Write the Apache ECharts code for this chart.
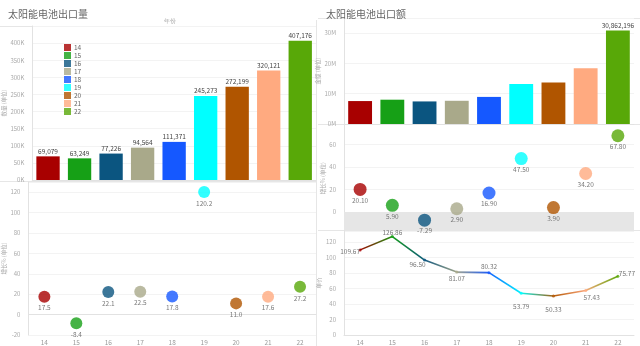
<!DOCTYPE html>
<html><head><meta charset="utf-8">
<script src="https://cdn.jsdelivr.net/npm/echarts@6/dist/echarts.min.js"></script>
<style>html,body{margin:0;padding:0;background:#fff}#c{width:640px;height:346px}</style>
</head><body><div id="c"></div>
<script>
const categories = ['14','15','16','17','18','19','20','21','22'];
const volume = [69079, 63249, 77226, 94564, 111371, 245273, 272199, 320121, 407176];
const volumeGrowth = [17.5, -8.4, 22.1, 22.5, 17.8, 120.2, 11.0, 17.6, 27.2];
const amount = [7575894, 8023768, 7452309, 7666303, 8945319, 13193235, 13699776, 18384549, 30862196];
const amountGrowth = [20.10, 5.90, -7.29, 2.90, 16.90, 47.50, 3.90, 34.20, 67.80];
const unitPrice = [109.67, 126.86, 96.50, 81.07, 80.32, 53.79, 50.33, 57.43, 75.77];
const volumeTicks = {min: 0, max: 450000, interval: 50000};
const amountTicks = {min: 0, max: 35000000, interval: 10000000};

const palette = ['#a80000','#16a016','#0b5580','#a9a98a','#1558ff','#00ffff','#b05500','#ffaa80','#58a808'];
const FONT = '"Noto Sans CJK SC","Noto Sans",sans-serif';
const gray = '#9a9a9a';
const fmtK = v => v.toLocaleString('en-US');

function xAx(grid, showLabel, showLine) {
  return {type:'category', gridIndex:grid, data:categories, boundaryGap:true,
    axisTick:{show:false},
    axisLine:{show:showLine, lineStyle:{color:'#e2e2e2'}},
    axisLabel:{show:showLabel, fontSize:6.5, color:gray, margin:4, fontFamily:FONT}};
}
function yAx(grid, o) {
  return Object.assign({type:'value', gridIndex:grid,
    axisLine:{show:true, lineStyle:{color:'#e2e2e2'}}, axisTick:{show:false},
    axisLabel:{fontSize:6, color:'#aaa', margin:8, showMaxLabel:false, fontFamily:FONT},
    splitLine:{lineStyle:{color:'#f3f3f3'}},
    nameLocation:'middle', nameGap:18, nameRotate:90,
    nameTextStyle:{fontSize:5.5, color:'#aaa', fontFamily:FONT}}, o);
}

const series = [];
// legend proxies
categories.forEach((c,i)=>series.push({type:'scatter', name:c, xAxisIndex:1, yAxisIndex:1, data:[], itemStyle:{color:palette[i]}}));

series.push({type:'bar', xAxisIndex:0, yAxisIndex:0, barWidth:'74%',
  data: volume.map((v,i)=>({value:v, itemStyle:{color:palette[i]}})),
  label:{show:true, position:'top', distance:2, fontSize:6.5, color:'#444', fontFamily:FONT, formatter:p=>fmtK(p.value)}});

series.push({type:'scatter', xAxisIndex:1, yAxisIndex:1, symbolSize:12,
  data: volumeGrowth.map((v,i)=>({value:v, itemStyle:{color:palette[i]}})),
  label:{show:true, position:'bottom', distance:2, fontSize:6.5, color:'#555', fontFamily:FONT, formatter:p=>p.value.toFixed(1)}});

series.push({type:'bar', xAxisIndex:2, yAxisIndex:2, barWidth:'74%',
  data: amount.map((v,i)=>({value:v, itemStyle:{color:palette[i]},
     label:{show:i===amount.length-1}})),
  label:{position:'top', distance:2, fontSize:6.5, color:'#444', fontFamily:FONT, formatter:p=>fmtK(p.value)}});

series.push({type:'scatter', xAxisIndex:3, yAxisIndex:3, symbolSize:13,
  data: amountGrowth.map((v,i)=>({value:v, itemStyle:{color:palette[i]}})),
  label:{show:true, position:'bottom', distance:1, fontSize:6.5, color:'#555', fontFamily:FONT, formatter:p=>p.value.toFixed(2)},
  markArea:{silent:true, itemStyle:{color:'#e6e6e6'}, data:[[{yAxis:0},{yAxis:-16}]]}, z:3});

for (let i=0;i<unitPrice.length-1;i++){
  const d = unitPrice.map((v,j)=> (j===i||j===i+1)? v : '-');
  series.push({type:'line', xAxisIndex:4, yAxisIndex:4, data:d, showSymbol:false, connectNulls:false,
    lineStyle:{width:1.6, color:new echarts.graphic.LinearGradient(0,0,1,0,[{offset:0,color:palette[i]},{offset:1,color:palette[i+1]}])}});
}
const priceLabelPos = [
  {position:'bottom', distance:0, offset:[-10,-3]},
  {position:'top', distance:-1, offset:[0,0]},
  {position:'bottom', distance:1, offset:[-7,-1]},
  {position:'bottom', distance:2, offset:[0,0]},
  {position:'top', distance:1, offset:[0,0]},
  {position:'bottom', distance:9, offset:[0,0]},
  {position:'bottom', distance:9, offset:[0,0]},
  {position:'bottom', distance:2, offset:[6,0]},
  {position:'top', distance:0, offset:[9,2]}
];
series.push({type:'scatter', xAxisIndex:4, yAxisIndex:4, symbolSize:3,
  data: unitPrice.map((v,i)=>({value:v, itemStyle:{color:palette[i]}, label:priceLabelPos[i]})),
  label:{show:true, fontSize:6.5, color:'#555', fontFamily:FONT, formatter:p=>p.value.toFixed(2)}, z:4});

const option = {
  animation:false,
  backgroundColor:'#fff',
  textStyle:{fontFamily:FONT},
  title:[
    {text:'太阳能电池出口量', left:3, top:4, textStyle:{fontSize:10, fontWeight:'normal', color:'#666', fontFamily:FONT}},
    {text:'太阳能电池出口额', left:321, top:4, textStyle:{fontSize:10, fontWeight:'normal', color:'#666', fontFamily:FONT}}
  ],
  legend:{data:categories, orient:'vertical', left:59, top:39, itemWidth:7, itemHeight:7, itemGap:1,
    icon:'rect', selectedMode:false, textStyle:{fontSize:6.5, color:'#666', padding:[0,0,0,-2], fontFamily:FONT}},
  grid:[
    {left:27, right:324, top:26, height:154},
    {left:27, right:324, top:182, height:153},
    {left:344, right:6, top:18, height:106},
    {left:344, right:6, top:122, height:112.5},
    {left:344, right:6, top:231, height:104}
  ],
  xAxis:[xAx(0,false,true), xAx(1,true,true), xAx(2,false,true), xAx(3,false,false), xAx(4,true,true)],
  yAxis:[
    yAx(0, Object.assign({name:'数量 (单位)', axisLabel:{fontSize:6, color:'#aaa', margin:8, showMaxLabel:false, formatter:v=>(v/1000)+'K'}}, volumeTicks)),
    yAx(1, {name:'增长% (单位)', min:-20, max:130, interval:20}),
    yAx(2, Object.assign({name:'金额 (单位)', axisLabel:{fontSize:6, color:'#aaa', margin:8, showMaxLabel:false, formatter:v=>(v/1e6)+'M'}}, amountTicks)),
    yAx(3, {name:'增长% (单位)', min:-20, max:80, interval:20,
      axisLabel:{fontSize:6, color:'#aaa', margin:8, showMaxLabel:false, showMinLabel:false},
      splitLine:{lineStyle:{color:['rgba(0,0,0,0)','#f3f3f3','#f3f3f3','#f3f3f3','#f3f3f3','rgba(0,0,0,0)']}}}),
    yAx(4, {name:'单价', min:0, max:134, interval:20})
  ],
  graphic:[
    {type:'line', shape:{x1:0,y1:26.5,x2:316,y2:26.5}, style:{stroke:'#e6e6e6', lineWidth:1}},
    {type:'line', shape:{x1:0,y1:181.5,x2:316,y2:181.5}, style:{stroke:'#e6e6e6', lineWidth:1}},
    {type:'line', shape:{x1:316.5,y1:20,x2:316.5,y2:346}, style:{stroke:'#e6e6e6', lineWidth:1}},
    {type:'line', shape:{x1:318,y1:18.5,x2:640,y2:18.5}, style:{stroke:'#e6e6e6', lineWidth:1}},
    {type:'line', shape:{x1:318,y1:124.5,x2:640,y2:124.5}, style:{stroke:'#e6e6e6', lineWidth:1}},
    {type:'line', shape:{x1:318,y1:230.5,x2:640,y2:230.5}, style:{stroke:'#e6e6e6', lineWidth:1}},
    {type:'text', left:164, top:18, style:{text:'年份', fontSize:6, fill:'#aaa', font:'6px '+FONT}}
  ],
  series:series
};
const chart = echarts.init(document.getElementById('c'), null, {renderer:'canvas'});
chart.setOption(option);
</script></body></html>
